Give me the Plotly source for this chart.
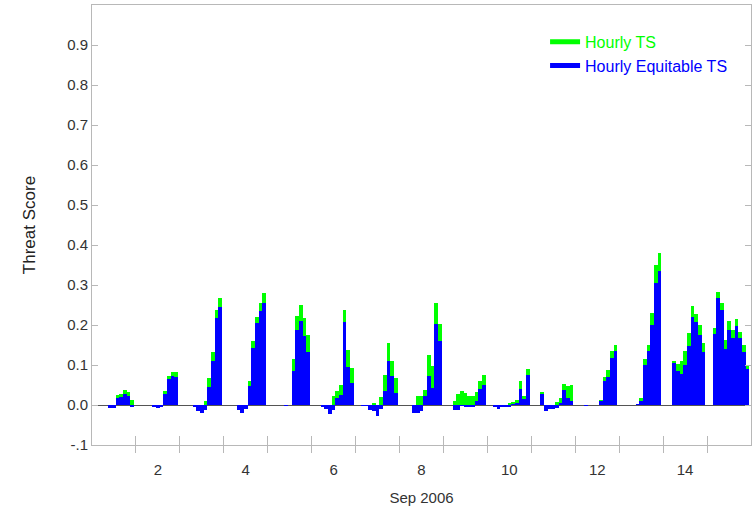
import plotly.graph_objects as go

# ---- data (2-hourly threat scores, Sep 2006) ----
times = [
    "2006-09-01 10:00", "2006-09-01 12:00", "2006-09-01 14:00", "2006-09-01 16:00", "2006-09-01 18:00", "2006-09-01 20:00", "2006-09-01 22:00",
    "2006-09-02 10:00", "2006-09-02 12:00", "2006-09-02 14:00", "2006-09-02 16:00", "2006-09-02 18:00", "2006-09-02 20:00", "2006-09-02 22:00",
    "2006-09-03 08:00", "2006-09-03 10:00", "2006-09-03 12:00", "2006-09-03 14:00", "2006-09-03 16:00", "2006-09-03 18:00", "2006-09-03 20:00", "2006-09-03 22:00",
    "2006-09-04 08:00", "2006-09-04 10:00", "2006-09-04 12:00", "2006-09-04 14:00", "2006-09-04 16:00", "2006-09-04 18:00", "2006-09-04 20:00", "2006-09-04 22:00",
    "2006-09-05 10:00", "2006-09-05 14:00", "2006-09-05 16:00", "2006-09-05 18:00", "2006-09-05 20:00", "2006-09-05 22:00",
    "2006-09-06 06:00", "2006-09-06 08:00", "2006-09-06 10:00", "2006-09-06 12:00", "2006-09-06 14:00", "2006-09-06 16:00", "2006-09-06 18:00", "2006-09-06 20:00", "2006-09-06 22:00",
    "2006-09-07 04:00", "2006-09-07 06:00", "2006-09-07 08:00", "2006-09-07 10:00", "2006-09-07 12:00", "2006-09-07 14:00", "2006-09-07 16:00", "2006-09-07 18:00", "2006-09-07 20:00", "2006-09-07 22:00",
    "2006-09-08 08:00", "2006-09-08 10:00", "2006-09-08 12:00", "2006-09-08 14:00", "2006-09-08 16:00", "2006-09-08 18:00", "2006-09-08 20:00", "2006-09-08 22:00",
    "2006-09-09 06:00", "2006-09-09 08:00", "2006-09-09 10:00", "2006-09-09 12:00", "2006-09-09 14:00", "2006-09-09 16:00", "2006-09-09 18:00", "2006-09-09 20:00", "2006-09-09 22:00",
    "2006-09-10 04:00", "2006-09-10 06:00", "2006-09-10 08:00", "2006-09-10 10:00", "2006-09-10 12:00", "2006-09-10 14:00", "2006-09-10 16:00", "2006-09-10 18:00", "2006-09-10 20:00", "2006-09-10 22:00",
    "2006-09-11 06:00", "2006-09-11 08:00", "2006-09-11 10:00", "2006-09-11 12:00", "2006-09-11 14:00", "2006-09-11 16:00", "2006-09-11 18:00", "2006-09-11 20:00", "2006-09-11 22:00",
    "2006-09-12 06:00", "2006-09-12 14:00", "2006-09-12 16:00", "2006-09-12 18:00", "2006-09-12 20:00", "2006-09-12 22:00",
    "2006-09-13 10:00", "2006-09-13 12:00", "2006-09-13 14:00", "2006-09-13 16:00", "2006-09-13 18:00", "2006-09-13 20:00", "2006-09-13 22:00",
    "2006-09-14 06:00", "2006-09-14 08:00", "2006-09-14 10:00", "2006-09-14 12:00", "2006-09-14 14:00", "2006-09-14 16:00", "2006-09-14 18:00", "2006-09-14 20:00", "2006-09-14 22:00",
    "2006-09-15 04:00", "2006-09-15 06:00", "2006-09-15 08:00", "2006-09-15 10:00", "2006-09-15 12:00", "2006-09-15 14:00", "2006-09-15 16:00", "2006-09-15 18:00", "2006-09-15 20:00", "2006-09-15 22:00",
]

hourly_ts = [
    -0.007, -0.007, 0.024, 0.027, 0.037, 0.033, 0.012,
    -0.005, -0.007, -0.006, 0.035, 0.072, 0.083, 0.083,
    -0.004, -0.015, -0.019, 0.010, 0.068, 0.133, 0.238, 0.267,
    -0.012, -0.019, -0.011, 0.060, 0.161, 0.219, 0.255, 0.279,
    -0.002, 0.114, 0.222, 0.249, 0.217, 0.174,
    -0.004, -0.011, -0.023, 0.022, 0.035, 0.051, 0.237, 0.138, 0.093,
    -0.002, -0.002, -0.012, 0.003, -0.027, 0.020, 0.076, 0.154, 0.111, 0.068,
    -0.020, 0.022, 0.022, 0.037, 0.124, 0.097, 0.255, 0.203,
    0.010, 0.027, 0.035, 0.031, 0.022, 0.022, 0.032, 0.061, 0.074,
    -0.004, -0.009, -0.005, -0.005, 0.004, 0.008, 0.012, 0.060, 0.022, 0.091,
    0.032, -0.015, -0.011, -0.011, 0.008, 0.018, 0.053, 0.047, 0.051,
    -0.001, 0.012, 0.070, 0.088, 0.136, 0.151,
    0.002, 0.017, 0.114, 0.149, 0.230, 0.350, 0.379,
    0.110, 0.103, 0.110, 0.136, 0.180, 0.248, 0.228, 0.201, 0.154,
    0.193, 0.282, 0.255, 0.163, 0.211, 0.188, 0.216, 0.183, 0.151, 0.100,
]

hourly_equitable_ts = [
    -0.007, -0.007, 0.018, 0.020, 0.027, 0.022, -0.003,
    -0.005, -0.007, -0.006, 0.027, 0.066, 0.072, 0.070,
    -0.004, -0.015, -0.019, -0.012, 0.045, 0.111, 0.217, 0.246,
    -0.012, -0.019, -0.011, 0.047, 0.143, 0.205, 0.234, 0.256,
    -0.002, 0.086, 0.187, 0.211, 0.172, 0.132,
    -0.004, -0.011, -0.023, -0.012, 0.017, 0.025, 0.207, 0.095, 0.056,
    -0.002, -0.002, -0.012, -0.015, -0.027, -0.011, 0.035, 0.111, 0.072, 0.031,
    -0.020, -0.019, -0.015, 0.022, 0.072, 0.043, 0.202, 0.159,
    -0.012, -0.012, -0.002, -0.003, -0.003, -0.003, 0.010, 0.039, 0.051,
    -0.004, -0.009, -0.005, -0.005, -0.004, 0.002, 0.004, 0.041, 0.014, 0.075,
    0.027, -0.015, -0.011, -0.011, -0.007, 0.003, 0.037, 0.017, 0.010,
    -0.001, 0.010, 0.060, 0.071, 0.118, 0.136,
    0.002, 0.010, 0.101, 0.134, 0.199, 0.305, 0.336,
    0.105, 0.085, 0.078, 0.101, 0.147, 0.219, 0.207, 0.174, 0.133,
    0.178, 0.267, 0.238, 0.140, 0.188, 0.168, 0.198, 0.168, 0.133, 0.091,
]

series_names = ["Hourly TS", "Hourly Equitable TS"]
series_colors = ["#00ff00", "#0000ff"]

x_label_vals = ["2006-09-%02d 12:00" % d for d in (2, 4, 6, 8, 10, 12, 14)]
x_label_text = ["2", "4", "6", "8", "10", "12", "14"]
x_day_ticks = ["2006-09-%02d" % d for d in range(2, 16)]
y_tick_vals = [-0.1, 0.0, 0.1, 0.2, 0.3, 0.4, 0.5, 0.6, 0.7, 0.8, 0.9]
y_tick_text = ["-.1", "0.0", "0.1", "0.2", "0.3", "0.4", "0.5", "0.6", "0.7", "0.8", "0.9"]

x_range = ["2006-09-01 00:00", "2006-09-16 00:00"]
y_range = [-0.1, 1.0]

BAR_W = 2 * 3600 * 1000  # 2 hours in ms
AX = "#b8b8b8"
FONT = "Liberation Sans, Arial, sans-serif"

fig = go.Figure()
for vals, name, col in zip([hourly_ts, hourly_equitable_ts], series_names, series_colors):
    fig.add_trace(go.Bar(x=times, y=vals, width=BAR_W, marker=dict(color=col, line=dict(width=0)),
                         showlegend=False, name=name))
# legend entries drawn as thick line swatches
for name, col in zip(series_names, series_colors):
    fig.add_trace(go.Scatter(x=[None], y=[None], mode="lines", line=dict(color=col, width=5),
                             name="<span style='color:%s'>%s</span>" % (col, name),
                             xaxis="x2", yaxis="y", legendgroup=name))

fig.update_layout(
    width=755, height=510,
    margin=dict(l=92, r=3.5, t=5, b=65, autoexpand=False),
    paper_bgcolor="white", plot_bgcolor="white",
    barmode="overlay", bargap=0,
    font=dict(family=FONT, size=15, color="#333333"),
    showlegend=True,
    legend=dict(x=0.6875, y=0.955, xanchor="left", yanchor="top", bgcolor="rgba(0,0,0,0)",
                font=dict(size=16), tracegroupgap=0),
    xaxis=dict(type="date", range=x_range, tickmode="array", tickvals=x_label_vals, ticktext=x_label_text,
               ticks="", showgrid=False, zeroline=False, showline=True, linecolor=AX, linewidth=1, mirror=True,
               ticklabelstandoff=11, automargin=False, tickfont=dict(size=15),
               minor=dict(tickmode="array", tickvals=x_day_ticks, ticks="outside", ticklen=7, tickcolor=AX, showgrid=False),
               title=dict(text="Sep 2006", font=dict(size=15, color="#333333"), standoff=15)),
    xaxis2=dict(type="date", range=x_range, overlaying="x", anchor="y", side="bottom",
                tickmode="array", tickvals=x_day_ticks, ticks="inside", ticklen=9, tickcolor=AX,
                showticklabels=False, showgrid=False, zeroline=False, showline=False, automargin=False),
    yaxis=dict(range=y_range, tickmode="array", tickvals=y_tick_vals, ticktext=y_tick_text,
               ticks="inside", ticklen=6, tickcolor=AX, showgrid=False, showline=True, linecolor=AX,
               linewidth=1, mirror="ticks", zeroline=True, zerolinecolor="#555555", zerolinewidth=1,
               ticklabelstandoff=0, automargin=False, tickfont=dict(size=15),
               title=dict(text="Threat Score", font=dict(size=17, color="#222222"), standoff=27)),
)

fig.write_html("out.html", config={"displayModeBar": False},
               post_script=["document.body.style.margin='0px';"])
